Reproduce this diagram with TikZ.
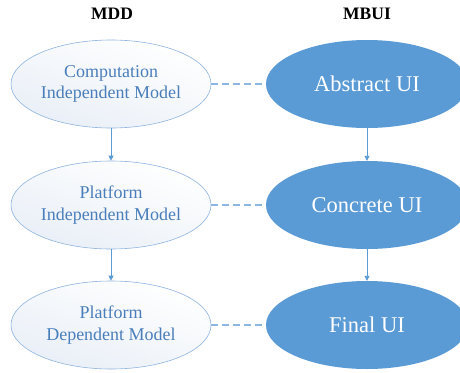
\documentclass[tikz,border=0pt]{standalone}
\usepackage{fontspec}
\setmainfont{Liberation Serif}
\usetikzlibrary{shapes.geometric,arrows.meta}
\definecolor{uiblue}{HTML}{5B9BD5}
\definecolor{edgeblue}{HTML}{8FB4DD}
\definecolor{textblue}{HTML}{4A7EBB}
\definecolor{paleblue}{HTML}{E9EFF7}
\definecolor{linkblue}{HTML}{8DB6E0}
\begin{document}
\begin{tikzpicture}[x=1pt,y=-1pt,
  mddbox/.style={ellipse,draw=edgeblue,line width=0.6pt,
    top color=white,bottom color=paleblue,shading angle=-20,
    minimum width=200pt,minimum height=88pt,inner sep=0pt,
    align=center,text=textblue,font=\fontsize{18}{21.5}\selectfont},
  uibox/.style={ellipse,fill=uiblue,draw=none,
    minimum width=202pt,minimum height=88pt,inner sep=0pt,
    align=center,text=white,font=\fontsize{22.5}{26}\selectfont},
  head/.style={font=\bfseries\fontsize{17.5}{20}\selectfont,text=black},
  flow/.style={draw=uiblue,line width=0.9pt,-{Triangle[length=5pt,width=5pt]}},
  link/.style={draw=linkblue,line width=1.2pt,dash pattern=on 7pt off 4pt}]
\clip (0,0) rectangle (460,372);
\fill[white] (0,0) rectangle (460,372);
\node[head] (hmdd) at (112,14) {MDD};
\node[head] (hmbui) at (367,14) {MBUI};
\node[mddbox] (cim) at (111,84) {Computation\\Independent Model};
\node[mddbox] (pim) at (111,205) {Platform\\Independent Model};
\node[mddbox] (psm) at (111,325) {Platform\\Dependent Model};
\node[uibox] (aui) at (367,84) {Abstract UI};
\node[uibox] (cui) at (367,205) {Concrete UI};
\node[uibox] (fui) at (367,325) {Final UI};
\draw[flow] (cim) -- (pim);
\draw[flow] (pim) -- (psm);
\draw[flow] (aui) -- (cui);
\draw[flow] (cui) -- (fui);
\draw[link] (cim) -- (aui);
\draw[link] (pim) -- (cui);
\draw[link] (psm) -- (fui);
\end{tikzpicture}
\end{document}
